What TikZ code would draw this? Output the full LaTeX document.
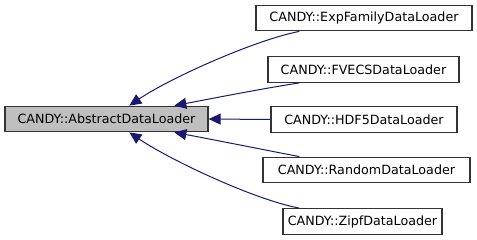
\documentclass[tikz,border=0pt]{standalone}
\usepackage{fontspec}
\setmainfont{DejaVu Sans}
\usetikzlibrary{arrows.meta,calc}
\definecolor{edgeblue}{HTML}{191970}
\definecolor{basegray}{HTML}{BFBFBF}
\tikzset{
  cls/.style={draw=black!80, line width=1.3pt, fill=white, minimum height=25.5pt,
    inner sep=0pt, font=\fontsize{12.7}{15}\selectfont, text=black},
  basecls/.style={cls, fill=basegray},
  inherit/.style={draw=edgeblue, line width=1pt,
    {Triangle[length=12pt,width=11pt,fill=edgeblue]}-}
}
\begin{document}
\begin{tikzpicture}[x=1pt,y=-1pt]
  \useasboundingbox (0,0) rectangle (477,240);
  \node[basecls, minimum width=203pt] (base) at (106.5,119) {CANDY::AbstractDataLoader};
  \node[cls, minimum width=216pt] (exp) at (364,18) {CANDY::ExpFamilyDataLoader};
  \node[cls, minimum width=191pt] (fvecs) at (363.5,69.5) {CANDY::FVECSDataLoader};
  \node[cls, minimum width=186pt] (hdf) at (364,119.5) {CANDY::HDF5DataLoader};
  \node[cls, minimum width=207pt] (rnd) at (366.5,170) {CANDY::RandomDataLoader};
  \node[cls, minimum width=159pt] (zipf) at (362.5,221.5) {CANDY::ZipfDataLoader};

  % inheritance edges, arrow at the base class
  \draw[inherit] ($(base.north west)+(125,0)$) .. controls (170,78) and (255,40) .. ($(exp.south west)+(44,0)$);
  \draw[inherit] ($(base.north west)+(170,0)$) .. controls (215,98) and (260,89) .. ($(fvecs.south west)+(32,0)$);
  \draw[inherit] (base.east) -- (hdf.west);
  \draw[inherit] ($(base.south west)+(170,0)$) .. controls (215,140) and (260,149) .. ($(rnd.north west)+(37,0)$);
  \draw[inherit] ($(base.south west)+(125,0)$) .. controls (170,160) and (255,200) .. ($(zipf.north west)+(17,0)$);
\end{tikzpicture}
\end{document}
